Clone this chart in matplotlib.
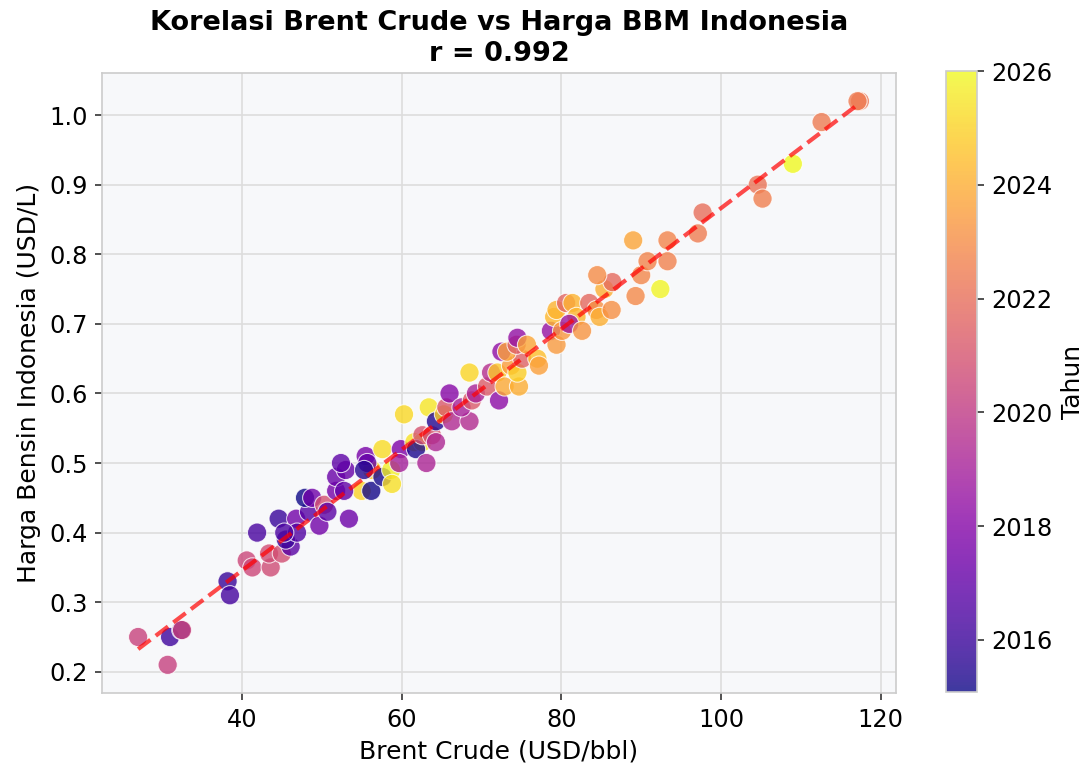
import numpy as np
import matplotlib
matplotlib.use('Agg')
import matplotlib.pyplot as plt

# Data (Brent USD/bbl, bensin USD/L, year)
brent = [27.0, 30.7, 31.0, 32.4, 32.5, 38.2, 38.5, 40.6, 41.3, 43.6,
         43.4, 45.0, 46.1, 45.5, 41.9, 44.6, 46.8, 46.9, 45.3, 48.4,
         49.7, 47.9, 48.8, 50.3, 50.7, 51.8, 53.4, 55.0, 56.2, 51.8,
         52.8, 56.3, 55.5, 55.7, 57.6, 57.6, 58.7, 58.8, 59.9, 59.7,
         61.6, 62.6, 61.8, 63.1, 62.6, 63.8, 64.3, 60.3, 63.4, 64.3,
         65.3, 65.6, 66.0, 66.3, 68.5, 67.5, 68.8, 69.3, 70.7, 72.2,
         68.5, 71.2, 72.0, 72.9, 74.7, 73.7, 74.5, 75.1, 72.5, 73.2,
         74.4, 74.5, 75.7, 77.0, 77.2, 78.7, 79.4, 79.1, 79.4, 80.6,
         81.4, 81.9, 80.1, 81.0, 82.6, 83.5, 84.4, 84.8, 86.3, 85.4,
         86.4, 84.5, 89.3, 90.0, 90.8, 93.3, 89.0, 93.3, 92.4, 97.1,
         97.7, 104.6, 105.2, 109.0, 112.6, 117.4, 117.1, 53.0, 52.4, 55.3]
bensin = [0.25, 0.21, 0.25, 0.26, 0.26, 0.33, 0.31, 0.36, 0.35, 0.35,
          0.37, 0.37, 0.38, 0.39, 0.40, 0.42, 0.42, 0.40, 0.40, 0.43,
          0.41, 0.45, 0.45, 0.44, 0.43, 0.46, 0.42, 0.46, 0.46, 0.48,
          0.46, 0.49, 0.51, 0.50, 0.52, 0.48, 0.49, 0.47, 0.52, 0.50,
          0.53, 0.53, 0.52, 0.50, 0.54, 0.54, 0.53, 0.57, 0.58, 0.56,
          0.57, 0.58, 0.60, 0.56, 0.56, 0.58, 0.59, 0.60, 0.61, 0.59,
          0.63, 0.63, 0.63, 0.61, 0.61, 0.64, 0.63, 0.65, 0.66, 0.66,
          0.67, 0.68, 0.67, 0.65, 0.64, 0.69, 0.67, 0.71, 0.72, 0.73,
          0.73, 0.71, 0.69, 0.70, 0.69, 0.73, 0.72, 0.71, 0.72, 0.75,
          0.76, 0.77, 0.74, 0.77, 0.79, 0.79, 0.82, 0.82, 0.75, 0.83,
          0.86, 0.90, 0.88, 0.93, 0.99, 1.02, 1.02, 0.49, 0.50, 0.49]
tahun = [2020.33, 2020.25, 2016.08, 2016.17, 2020.42, 2015.92, 2016.25, 2020.50, 2020.58, 2020.67,
         2020.75, 2020.83, 2016.75, 2016.00, 2016.33, 2015.95, 2017.50, 2016.58, 2016.42, 2016.67,
         2017.50, 2015.08, 2017.42, 2020.92, 2016.83, 2017.58, 2017.33, 2025.00, 2015.17, 2017.25,
         2017.00, 2024.80, 2017.67, 2017.08, 2025.25, 2015.25, 2025.75, 2025.33, 2017.83, 2019.00,
         2025.42, 2025.60, 2015.33, 2019.25, 2021.00, 2021.08, 2019.33, 2025.17, 2025.50, 2015.42,
         2024.90, 2021.17, 2018.08, 2019.42, 2019.50, 2019.08, 2021.25, 2019.17, 2021.33, 2018.25,
         2025.08, 2019.58, 2024.75, 2023.90, 2024.00, 2023.50, 2024.90, 2021.50, 2018.33, 2023.70,
         2021.42, 2018.42, 2023.80, 2024.50, 2023.60, 2018.50, 2023.42, 2024.30, 2024.20, 2021.67,
         2024.17, 2024.25, 2023.33, 2018.67, 2023.25, 2021.75, 2023.17, 2024.08, 2023.08, 2024.00,
         2021.83, 2023.00, 2022.90, 2022.83, 2022.75, 2022.67, 2023.75, 2022.75, 2025.90, 2022.50,
         2022.00, 2022.17, 2022.58, 2026.00, 2022.42, 2022.33, 2022.45, 2017.17, 2016.92, 2015.50]

x = np.array(brent)
y = np.array(bensin)

fig = plt.figure(figsize=(7.26, 5.127), dpi=150)
ax = fig.add_axes([0.0937, 0.0988, 0.7291, 0.8062])
cax = fig.add_axes([0.8687, 0.100, 0.0285, 0.8075])

ax.set_facecolor('#f7f8fa')
ax.grid(True, color='#dddddd', linewidth=0.8)
ax.set_axisbelow(True)
for s in ax.spines.values():
    s.set_color('#cccccc')

sc = ax.scatter(x, y, c=tahun, cmap='plasma', s=85, alpha=0.8,
                edgecolors='white', linewidths=0.5, zorder=3)

# regression line
m, b = np.polyfit(x, y, 1)
xl = np.array([x.min(), x.max()])
ax.plot(xl, m * xl + b, '--', color='red', linewidth=2, alpha=0.7, zorder=4)

ax.set_title('Korelasi Brent Crude vs Harga BBM Indonesia\nr = 0.992',
             fontsize=13, fontweight='bold', linespacing=1.25, pad=6)
ax.set_xlabel('Brent Crude (USD/bbl)', fontsize=12)
ax.set_ylabel('Harga Bensin Indonesia (USD/L)', fontsize=12)
ax.tick_params(labelsize=11.5, color='#333333', length=3.5)
ax.set_xticks([40, 60, 80, 100, 120])
ax.set_yticks(np.arange(0.2, 1.01, 0.1))

cb = fig.colorbar(sc, cax=cax)
cb.set_label('Tahun', fontsize=12)
cb.set_ticks([2016, 2018, 2020, 2022, 2024, 2026])
cb.ax.tick_params(labelsize=11.5, length=3.5, color='#333333')
cb.outline.set_edgecolor('#cccccc')

fig.savefig('out.png', dpi=150)
